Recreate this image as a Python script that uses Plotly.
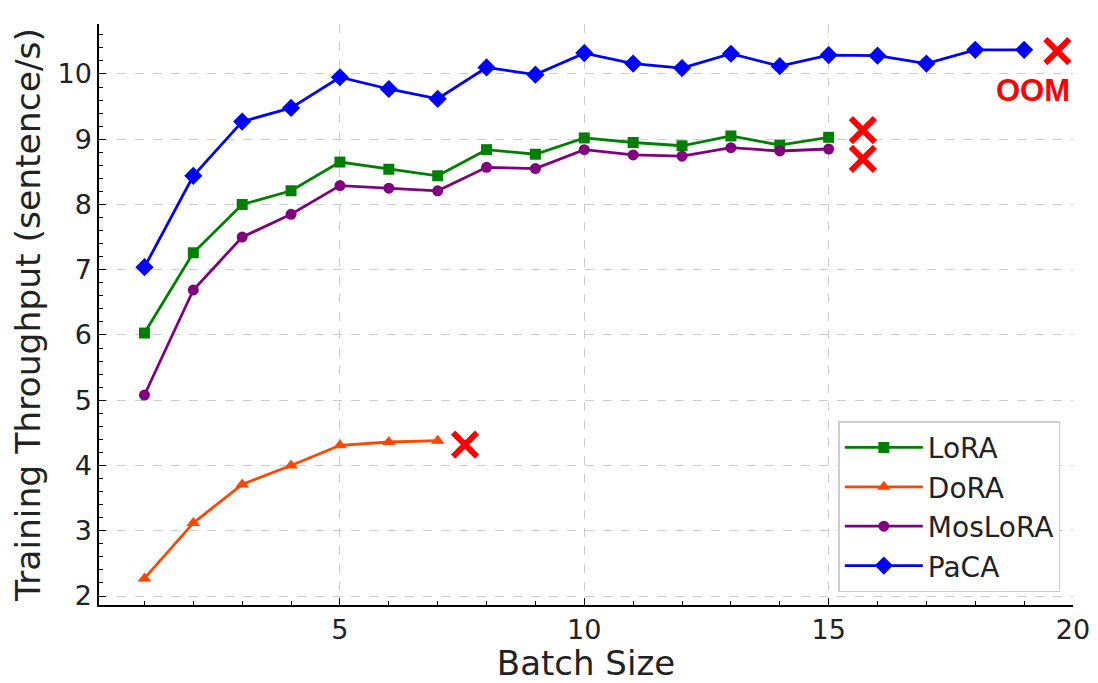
import plotly.graph_objects as go

batch_lora = list(range(1, 16))
lora = [6.03, 7.26, 8.00, 8.21, 8.65, 8.54, 8.44, 8.84, 8.77, 9.02, 8.95, 8.90, 9.05, 8.91, 9.03]

batch_dora = list(range(1, 8))
dora = [2.27, 3.12, 3.71, 4.00, 4.31, 4.36, 4.38]

batch_moslora = list(range(1, 16))
moslora = [5.08, 6.69, 7.50, 7.85, 8.29, 8.25, 8.21, 8.57, 8.55, 8.84, 8.76, 8.74, 8.87, 8.82, 8.85]

batch_paca = list(range(1, 20))
paca = [7.04, 8.44, 9.27, 9.48, 9.95, 9.77, 9.62, 10.10, 9.99, 10.32,
        10.16, 10.09, 10.31, 10.12, 10.29, 10.28, 10.16, 10.37, 10.37]

# where each method runs out of memory
oom_x = [15.7, 7.56, 15.7, 19.68]
oom_y = [9.14, 4.32, 8.70, 10.35]

series = [
    ("LoRA", batch_lora, lora, "green", "square", 11),
    ("DoRA", batch_dora, dora, "orangered", "triangle-up", 12),
    ("MosLoRA", batch_moslora, moslora, "purple", "circle", 11),
    ("PaCA", batch_paca, paca, "blue", "diamond", 14),
]

fig = go.Figure()
for name, xs, ys, col, sym, sz in series:
    fig.add_trace(go.Scatter(
        x=xs, y=ys, name=name, mode="lines+markers",
        line=dict(color=col, width=2.8),
        marker=dict(symbol=sym, size=sz, color=col),
    ))

fig.add_trace(go.Scatter(
    x=oom_x, y=oom_y, mode="markers", showlegend=False,
    marker=dict(symbol="x-thin", size=24, line=dict(color="red", width=6)),
))

fig.add_annotation(x=19.19, y=9.74, text="<b>OOM</b>", showarrow=False,
                   font=dict(family="Liberation Sans", size=31, color="red"))

axis_common = dict(
    showline=True, linecolor="black", linewidth=1.5, mirror=False,
    ticks="inside", ticklen=7, tickwidth=1.2, tickcolor="black",
    showgrid=True, gridcolor="#cccccc", griddash="dash", gridwidth=1,
    zeroline=False, tickfont=dict(size=27, color="#222"),
    automargin=False,
)

fig.update_xaxes(
    range=[0.07, 20], tickvals=[5, 10, 15, 20],
    minor=dict(dtick=1, ticks="inside", ticklen=4, tickcolor="black", showgrid=False),
    title=dict(text="Batch Size", font=dict(size=34, color="#222"), standoff=4),
    **axis_common,
)
fig.update_yaxes(
    range=[1.862, 10.766], tickvals=list(range(2, 11)),
    minor=dict(dtick=0.2, ticks="inside", ticklen=4, tickcolor="black", showgrid=False),
    title=dict(text="Training Throughput (sentence/s)", font=dict(size=34.5, color="#222")),
    **axis_common,
)

# page body has an 8px margin, so the figure is a bit smaller than the window
fig.update_layout(
    width=1090, height=675,
    margin=dict(l=91, r=25, t=16, b=78),
    plot_bgcolor="white", paper_bgcolor="white",
    font=dict(family="DejaVu Sans", color="#222"),
    legend=dict(
        x=0.987, y=0.022, xanchor="right", yanchor="bottom",
        font=dict(size=28, color="#222"),
        bordercolor="#cccccc", borderwidth=1.5, bgcolor="white",
        tracegroupgap=6, itemwidth=78,
    ),
)

fig.write_html("out.html")
